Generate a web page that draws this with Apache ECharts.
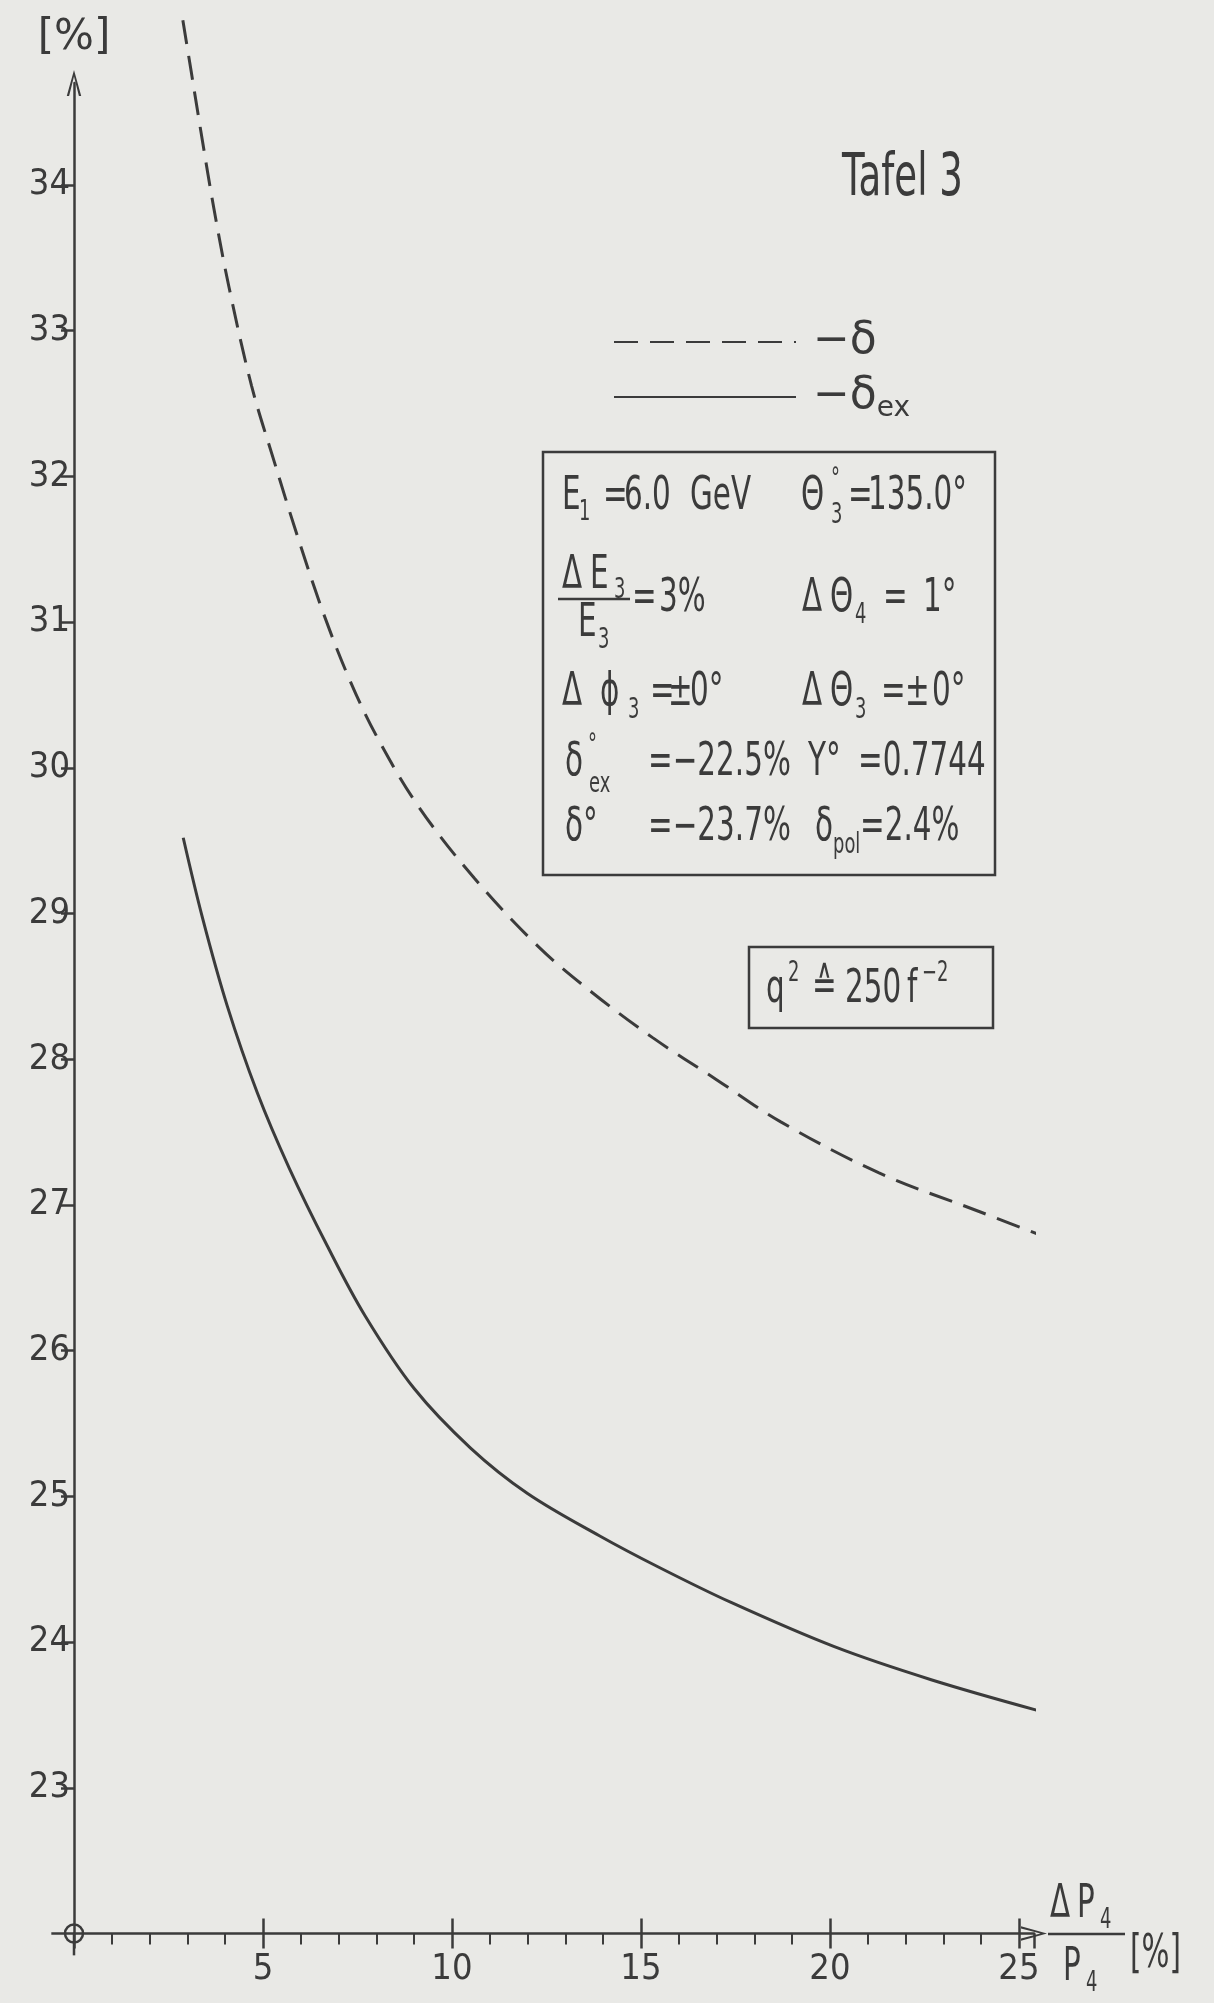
<!DOCTYPE html>
<html>
<head>
<meta charset="utf-8">
<title>Tafel 3</title>
<script src="https://cdn.jsdelivr.net/npm/echarts@6/dist/echarts.min.js"></script>
<style>
  html, body { margin: 0; padding: 0; background: #e9e9e6; }
  #chart { width: 1214px; height: 2003px; }
</style>
</head>
<body>
<div id="chart"></div>
<script>
// -δ (gestrichelt)
const xDelta = [2.88, 3.1, 3.4, 3.7, 4.1, 4.7, 5.3, 5.9, 6.6, 7.3, 8.0, 9.1, 10.6, 12.3, 13.7, 15.3, 17.0, 18.7, 21.3, 24.0, 25.9]
const yDelta = [35.13, 34.78, 34.3, 33.84, 33.3, 32.62, 32.1, 31.6, 31.06, 30.6, 30.22, 29.74, 29.24, 28.77, 28.46, 28.15, 27.86, 27.57, 27.22, 26.95, 26.76]
// -δex (durchgezogen)
const xDeltaEx = [2.89, 3.4, 4.05, 4.85, 5.7, 6.7, 7.7, 9.0, 10.5, 12.0, 13.9, 15.5, 17.4, 20.1, 22.7, 25.65]
const yDeltaEx = [29.52, 28.97, 28.37, 27.77, 27.25, 26.72, 26.24, 25.74, 25.33, 25.02, 24.73, 24.51, 24.27, 23.97, 23.74, 23.52]
// Achsen
const xMajorTicks = [5, 10, 15, 20, 25]
const yTicks = [23, 24, 25, 26, 27, 28, 29, 30, 31, 32, 33, 34]

const ink = '#3b3b3b'
const labelFont = "'Liberation Sans Narrow', 'DejaVu Sans Condensed', 'Roboto', sans-serif"
const F = 46 // Schriftgröße Text
const S = 28 // Index / Exponent
const SX = 0.64 // schmale Normschrift

const pairs = (xs, ys) => xs.map((x, i) => [x, ys[i]])
// offene Pfeilspitze
const arrow = 'path://M5,0 L10,18 L8.4,18 L5,4.5 L1.6,18 L0,18 Z'

let chart = echarts.init(document.getElementById('chart'))

let option = {
  backgroundColor: '#e9e9e6',
  animation: false,
  grid: { left: 74, right: 180, top: 83, bottom: 69.5, containLabel: false },
  legend: {
    orient: 'vertical',
    left: 608,
    top: 311,
    itemWidth: 182,
    itemHeight: 14,
    itemGap: 3,
    data: ['−δ', '−δex'],
    itemStyle: { opacity: 0 },
    formatter: function (name) {
      return name === '−δex' ? '−δ{sub|ex}' : name
    },
    textStyle: {
      color: ink,
      fontFamily: 'DejaVu Sans',
      fontSize: 44,
      lineHeight: 52,
      padding: [0, 0, 0, 12],
      rich: {
        sub: { color: ink, fontFamily: 'DejaVu Sans', fontSize: 28, lineHeight: 20, verticalAlign: 'bottom' }
      }
    }
  },
  xAxis: [
    {
      type: 'value',
      position: 'bottom',
      min: 0,
      max: 25.4,
      interval: 5,
      axisLine: {
        lineStyle: { color: ink, width: 2.5 },
        symbol: ['none', arrow],
        symbolSize: [16, 26]
      },
      axisTick: { show: true, length: 15, lineStyle: { color: ink, width: 2.5 } },
      minorTick: { show: true, splitNumber: 5, length: 11, lineStyle: { color: ink, width: 2 } },
      axisLabel: {
        color: ink,
        fontFamily: labelFont,
        fontSize: 36,
        margin: 18,
        customValues: xMajorTicks
      },
      splitLine: { show: false }
    },
    {
      // Hauptstriche nach oben
      type: 'value',
      position: 'bottom',
      min: 0,
      max: 25.4,
      interval: 5,
      axisLine: { show: false },
      axisTick: { show: true, inside: true, length: 15, lineStyle: { color: ink, width: 2.5 }, customValues: xMajorTicks },
      axisLabel: { show: false },
      splitLine: { show: false }
    }
  ],
  yAxis: {
    type: 'value',
    min: 22,
    max: 34.7,
    interval: 1,
    name: '[%]',
    nameGap: 24,
    nameTextStyle: { color: ink, fontFamily: 'DejaVu Sans', fontSize: 42 },
    axisLine: {
      lineStyle: { color: ink, width: 2.5 },
      symbol: ['none', arrow],
      symbolSize: [16, 26]
    },
    axisTick: { show: true, length: 13, lineStyle: { color: ink, width: 2.5 }, customValues: yTicks },
    axisLabel: {
      color: ink,
      fontFamily: labelFont,
      fontSize: 36,
      margin: 4,
      customValues: yTicks
    },
    splitLine: { show: false }
  },
  series: [
    {
      name: '−δ',
      type: 'line',
      data: pairs(xDelta, yDelta),
      symbol: 'none',
      smooth: 0.35,
      clip: false,
      lineStyle: { color: ink, width: 3, type: [24, 12] },
      itemStyle: { color: ink }
    },
    {
      name: '−δex',
      type: 'line',
      data: pairs(xDeltaEx, yDeltaEx),
      symbol: 'none',
      smooth: 0.35,
      clip: false,
      lineStyle: { color: ink, width: 3 },
      itemStyle: { color: ink }
    }
  ]
}
chart.setOption(option)

// Beschriftung (Normschrift, schmal)
function txt (s, x, cy, size) {
  return {
    type: 'text',
    x: x,
    y: cy,
    scaleX: SX,
    style: { text: s, fontFamily: 'DejaVu Sans', fontSize: size, fill: ink, align: 'left', verticalAlign: 'middle' }
  }
}
function seg (x1, y1, x2, y2, w) {
  return { type: 'line', shape: { x1: x1, y1: y1, x2: x2, y2: y2 }, style: { stroke: ink, lineWidth: w || 2.5 } }
}
function box (x, y, w, h) {
  return { type: 'rect', shape: { x: x, y: y, width: w, height: h }, style: { fill: 'none', stroke: ink, lineWidth: 2.5 } }
}

const pieces = [
  // Tafel
  ['Tafel 3', 842, 180, 58],
  // Zeile 1
  ['E', 562, 497, F], ['1', 579, 513, S], ['=', 603, 497, F], ['6.0', 624, 497, F], ['GeV', 690, 497, F],
  ['Θ', 801, 497, F], ['°', 831, 480, S], ['3', 831, 516, S], ['=', 848, 497, F], ['135.0°', 868, 497, F],
  // Zeile 2
  ['Δ', 562, 576, F], ['E', 590, 576, F], ['3', 614, 591, S],
  ['E', 578, 624, F], ['3', 598, 641, S],
  ['=', 632, 599, F], ['3%', 659, 599, F],
  ['Δ', 802, 599, F], ['Θ', 830, 599, F], ['4', 855, 616, S], ['=', 883, 599, F], ['1°', 923, 599, F],
  // Zeile 3
  ['Δ', 562, 693, F], ['ϕ', 600, 693, F], ['3', 628, 711, S], ['=', 650, 693, F], ['±', 668, 693, F], ['0°', 690, 693, F],
  ['Δ', 802, 693, F], ['Θ', 830, 693, F], ['3', 855, 711, S], ['=', 881, 693, F], ['±', 905, 693, F], ['0°', 932, 693, F],
  // Zeile 4
  ['δ', 565, 763, F], ['°', 588, 746, S], ['ex', 589, 785, S], ['=−22.5%', 648, 763, F],
  ['Y°', 808, 763, F], ['=0.7744', 858, 763, F],
  // Zeile 5
  ['δ°', 565, 828, F], ['=−23.7%', 648, 828, F],
  ['δ', 815, 828, F], ['pol', 833, 846, S], ['=2.4%', 860, 828, F],
  // q2
  ['q', 766, 990, F], ['2', 788, 974, S], ['≙', 812, 988, F], ['250', 845, 990, F], ['f', 907, 990, F], ['−2', 922, 974, S],
  // x-Achsenname
  ['Δ', 1050, 1905, F], ['P', 1077, 1905, F], ['4', 1100, 1921, S],
  ['P', 1063, 1968, F], ['4', 1086, 1984, S],
  ['[%]', 1130, 1955, F]
]

let o = chart.convertToPixel({ gridIndex: 0 }, [0, 22])
let xl = chart.convertToPixel({ gridIndex: 0 }, [-0.6, 22])
let yl = chart.convertToPixel({ gridIndex: 0 }, [0, 21.85])

let graphic = pieces.map(p => txt(p[0], p[1], p[2], p[3]))
graphic.push(box(543, 452, 452, 423))
graphic.push(box(749, 947, 244, 81))
graphic.push(seg(558, 599, 630, 599, 2.5)) // Bruchstrich ΔE3/E3
graphic.push(seg(1048, 1934, 1125, 1934, 2.5)) // Bruchstrich ΔP4/P4
// Achsenverlängerung und Ursprung
graphic.push(seg(xl[0], o[1], o[0], o[1]))
graphic.push(seg(o[0], o[1], o[0], yl[1]))
graphic.push({ type: 'circle', shape: { cx: o[0], cy: o[1], r: 9 }, style: { fill: 'none', stroke: ink, lineWidth: 2.5 } })

chart.setOption({ graphic: graphic })
</script>
</body>
</html>
